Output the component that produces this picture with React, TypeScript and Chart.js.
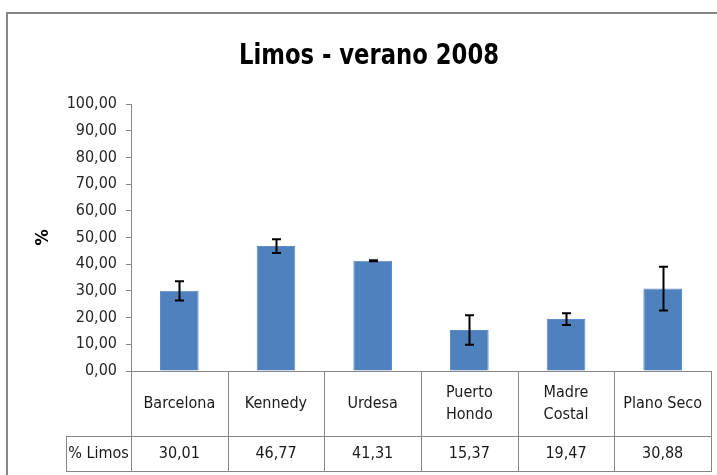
import { useEffect, useRef } from "react";
import { Chart, registerables } from "chart.js";

Chart.register(...registerables);

const chartTitle = "Limos - verano 2008";
const yAxisTitle = "%";
const seriesName = "% Limos";
const categoryLines: string[][] = [
  ["Barcelona"],
  ["Kennedy"],
  ["Urdesa"],
  ["Puerto", "Hondo"],
  ["Madre", "Costal"],
  ["Plano Seco"],
];
const categories = categoryLines.map((l) => l.join(" "));
const values = [30.01, 46.77, 41.31, 15.37, 19.47, 30.88];
const errors = [3.6, 2.6, 0.2, 5.5, 2.2, 8.2];
const yMin = 0;
const yMax = 100;
const yStep = 10;

const FONT = '"Liberation Sans Narrow", "DejaVu Sans Condensed", "Open Sans", sans-serif';
const LINE = "#868686";
const fmt = (v: number) => v.toFixed(2).replace(".", ",");

const excelPlugin = {
  id: "excelDecor",
  beforeDraw(chart: any) {
    const { ctx, width, height } = chart;
    ctx.save();
    ctx.fillStyle = "#ffffff";
    ctx.fillRect(0, 0, width, height);
    ctx.strokeStyle = LINE;
    ctx.lineWidth = 2;
    ctx.beginPath();
    ctx.moveTo(7, height);
    ctx.lineTo(7, 13);
    ctx.lineTo(width, 13);
    ctx.stroke();
    ctx.restore();
  },
  afterDatasetsDraw(chart: any) {
    const { ctx } = chart;
    const meta = chart.getDatasetMeta(0);
    const ys = chart.scales.y;
    ctx.save();
    ctx.strokeStyle = "#000000";
    ctx.lineWidth = 2;
    meta.data.forEach((bar: any, i: number) => {
      const x = Math.round(bar.x) + 0.5;
      const yTop = ys.getPixelForValue(values[i] + errors[i]);
      const yBot = ys.getPixelForValue(values[i] - errors[i]);
      ctx.beginPath();
      ctx.moveTo(x, yTop);
      ctx.lineTo(x, yBot);
      ctx.moveTo(x - 4.5, yTop);
      ctx.lineTo(x + 4.5, yTop);
      ctx.moveTo(x - 4.5, yBot);
      ctx.lineTo(x + 4.5, yBot);
      ctx.stroke();
    });
    ctx.restore();
  },
  afterDraw(chart: any) {
    const { ctx, chartArea } = chart;
    const xs = chart.scales.x;
    const n = categories.length;
    const centers = categories.map((_, i) => xs.getPixelForValue(i));
    const bounds: number[] = [chartArea.left];
    for (let i = 1; i < n; i++) bounds.push((centers[i - 1] + centers[i]) / 2);
    bounds.push(chartArea.right);
    const top = chartArea.bottom;
    const mid = top + 65;
    const bot = top + 100;
    const headLeft = 66;

    ctx.save();
    ctx.strokeStyle = LINE;
    ctx.lineWidth = 1;
    ctx.beginPath();
    bounds.forEach((b) => {
      const bx = Math.round(b) + 0.5;
      ctx.moveTo(bx, top);
      ctx.lineTo(bx, bot);
    });
    ctx.moveTo(headLeft + 0.5, mid);
    ctx.lineTo(headLeft + 0.5, bot);
    ctx.moveTo(headLeft, Math.round(mid) + 0.5);
    ctx.lineTo(chartArea.right + 1, Math.round(mid) + 0.5);
    ctx.moveTo(headLeft, Math.round(bot) + 0.5);
    ctx.lineTo(chartArea.right + 1, Math.round(bot) + 0.5);
    ctx.stroke();

    ctx.fillStyle = "#1a1a1a";
    ctx.textAlign = "center";
    ctx.textBaseline = "middle";
    ctx.font = `16px ${FONT}`;
    const rowMid1 = (top + mid) / 2;
    const rowMid2 = (mid + bot) / 2;
    categoryLines.forEach((lines, i) => {
      const cx = (bounds[i] + bounds[i + 1]) / 2;
      const lh = 22;
      lines.forEach((t, j) => {
        ctx.fillText(t, cx, rowMid1 + (j - (lines.length - 1) / 2) * lh);
      });
      ctx.fillText(fmt(values[i]), cx, rowMid2);
    });
    ctx.fillText(seriesName, (headLeft + bounds[0]) / 2, rowMid2);

    // Chart title (narrowed to mimic the condensed original face)
    ctx.save();
    ctx.font = `bold 29px ${FONT}`;
    ctx.fillStyle = "#000000";
    ctx.textBaseline = "alphabetic";
    ctx.translate(369, 64);
    const w = ctx.measureText(chartTitle).width;
    const sx = w > 0 ? Math.min(1, 260 / w) : 1;
    ctx.scale(sx, 1);
    ctx.fillText(chartTitle, 0, 0);
    ctx.restore();

    // Y axis title
    ctx.save();
    ctx.fillStyle = "#000000";
    ctx.translate(43, (chartArea.top + chartArea.bottom) / 2);
    ctx.rotate(-Math.PI / 2);
    ctx.font = `bold 18px ${FONT}`;
    ctx.fillText(yAxisTitle, 0, 0);
    ctx.restore();
    ctx.restore();
  },
};

export default function App() {
  const ref = useRef<HTMLCanvasElement | null>(null);
  useEffect(() => {
    if (!ref.current) return;
    const chart = new Chart(ref.current, {
      type: "bar",
      data: {
        labels: categories,
        datasets: [
          {
            label: seriesName,
            data: values,
            backgroundColor: "#4F81BD",
            borderColor: "#5B8DCB",
            borderWidth: 1,
            barPercentage: 0.4,
            categoryPercentage: 1,
          },
        ],
      },
      options: {
        responsive: false,
        animation: false,
        devicePixelRatio: 1,
        layout: { padding: { left: 0, right: 6, top: 104, bottom: 104 } },
        plugins: {
          legend: { display: false },
          title: { display: false },
          tooltip: { enabled: false },
        },
        scales: {
          x: {
            ticks: { display: false },
            grid: { display: false },
            border: { display: true, color: LINE, width: 1 },
            afterFit: (s: any) => {
              s.height = 0;
            },
          },
          y: {
            min: yMin,
            max: yMax,
            ticks: {
              stepSize: yStep,
              padding: 9,
              color: "#262626",
              font: { family: FONT, size: 16 },
              callback: (v: any) => fmt(Number(v)),
            },
            grid: {
              display: true,
              drawOnChartArea: false,
              drawTicks: true,
              tickLength: 5,
              color: LINE,
            },
            border: { display: true, color: LINE, width: 1 },
            afterFit: (s: any) => {
              s.width = 131;
            },
          },
        },
      },
      plugins: [excelPlugin],
    });
    return () => chart.destroy();
  }, []);
  return (
    <div style={{ position: "absolute", left: 0, top: 0, width: 717, height: 475 }}>
      <canvas ref={ref} width={717} height={475} />
    </div>
  );
}
